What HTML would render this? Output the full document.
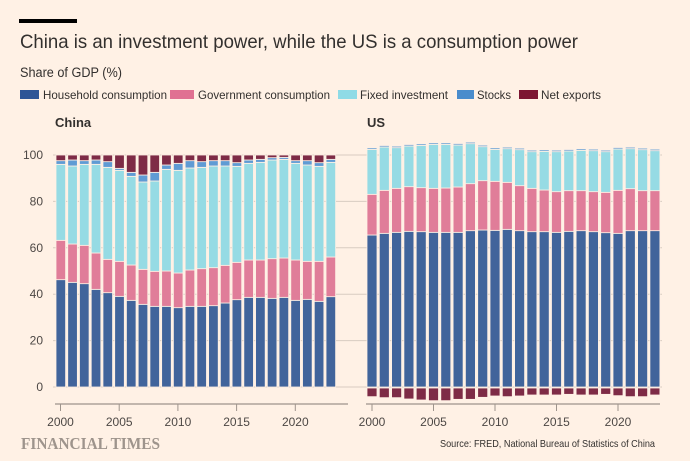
<!DOCTYPE html>
<html><head><meta charset="utf-8"><style>
html,body{margin:0;padding:0;background:#fff1e5;}
svg{display:block;font-family:"Liberation Sans",sans-serif;}
</style></head><body>
<svg id="s" width="690" height="461" viewBox="0 0 690 461" xmlns="http://www.w3.org/2000/svg">
<rect width="690" height="461" fill="#fff1e5"/>
<rect x="19" y="19" width="58" height="4" fill="#000"/>
<text x="20" y="48" font-size="19.5" fill="#33302e" textLength="558" lengthAdjust="spacingAndGlyphs">China is an investment power, while the US is a consumption power</text>
<text x="20" y="77" font-size="13.5" fill="#33302e" textLength="102" lengthAdjust="spacingAndGlyphs">Share of GDP (%)</text>
<g font-size="12" fill="#33302e">
<rect x="20" y="90" width="19" height="9" fill="#2e5596"/><text x="43" y="99" textLength="124" lengthAdjust="spacingAndGlyphs">Household consumption</text>
<rect x="170" y="90" width="24" height="9" fill="#e07192"/><text x="198" y="99" textLength="132" lengthAdjust="spacingAndGlyphs">Government consumption</text>
<rect x="338" y="90" width="19" height="9" fill="#8fdbe6"/><text x="360" y="99" textLength="88" lengthAdjust="spacingAndGlyphs">Fixed investment</text>
<rect x="457" y="90" width="17" height="9" fill="#4a8ccc"/><text x="477" y="99" textLength="34" lengthAdjust="spacingAndGlyphs">Stocks</text>
<rect x="519" y="90" width="19" height="9" fill="#7d1632"/><text x="541" y="99" textLength="60" lengthAdjust="spacingAndGlyphs">Net exports</text>
</g>
<text x="55" y="127" font-size="13" font-weight="bold" fill="#33302e">China</text>
<text x="367" y="127" font-size="13" font-weight="bold" fill="#33302e">US</text>
<g id="grid"></g>
<g id="bars"></g>
<g stroke="#9e948c" stroke-width="1.2">
<line x1="55" y1="404" x2="348" y2="404"/><line x1="366" y1="404" x2="660" y2="404"/>
</g>
<g id="ticks" stroke="#9e948c" stroke-width="1"></g>
<g id="lab" font-size="12" fill="#4d4845" text-anchor="middle"></g>
<text x="21" y="449" font-family="Liberation Serif,serif" font-size="17" font-weight="bold" fill="#9e948c" textLength="139" lengthAdjust="spacingAndGlyphs">FINANCIAL TIMES</text>
<text x="440" y="447" font-size="10.5" fill="#33302e" textLength="215" lengthAdjust="spacingAndGlyphs">Source: FRED, National Bureau of Statistics of China</text>
</svg>
<script>
const NS="http://www.w3.org/2000/svg";
function el(p,t,a){const e=document.createElementNS(NS,t);for(const k in a)e.setAttribute(k,a[k]);p.appendChild(e);return e;}
const Y=z=>110+z/3;
const g=document.getElementById('grid'),b=document.getElementById('bars'),tk=document.getElementById('ticks'),lb=document.getElementById('lab');
for(let i=0;i<=5;i++){const y=387-i*46.4;
 el(g,'line',{x1:53,x2:345,y1:y,y2:y,stroke:'#d8ccc1','stroke-width':1});
 el(g,'line',{x1:345,x2:662,y1:y,y2:y,stroke:'#d8ccc1','stroke-width':1});
 const t=el(lb,'text',{x:43,y:y+4,'text-anchor':'end'});t.textContent=i*20;}
const C={h:'#41649b',g:'#e07d99',f:'#96dbe4',s:'#5f9bd4',n:'#7e2b46'};
function seg(x,w,y1,y2,c){if(Math.abs(y2-y1)<0.3)return;el(b,'rect',{x:x,y:Math.min(y1,y2),width:w,height:Math.abs(y2-y1),fill:c,stroke:'#fff1e5','stroke-width':0.8});}
const ch={h:[509,517,521,538,548,559,571,583,589,589,593,589,589,587,579,569,562,562,565,562,571,568,574,560],
g:[391,402,406,429,448,454,465,478,484,483,489,480,476,473,466,457,450,450,446,444,450,454,454,441],
f:[163,168,163,163,172,181,199,216,213,178,181,174,172,168,168,169,160,157,150,148,160,165,169,157],
n:[152,150,152,150,155,175,187,195,187,165,160,152,155,152,152,158,150,148,143,142,152,152,158,148]};
for(let i=0;i<24;i++){const x=56+i*11.74,w=9.6;
 seg(x,w,387,Y(ch.h[i]),C.h);seg(x,w,Y(ch.h[i]),Y(ch.g[i]),C.g);seg(x,w,Y(ch.g[i]),Y(ch.f[i]),C.f);
 seg(x,w,Y(ch.f[i]),Y(ch.n[i]),C.s);seg(x,w,Y(ch.n[i]),Y(135),C.n);}
const us={h:[375,370,367,364,365,367,367,367,362,360,361,358,362,365,365,367,364,362,365,368,370,362,362,362],
g:[253,241,235,230,233,235,234,231,221,212,214,217,227,235,240,245,242,242,245,247,241,236,242,242],
f:[118,111,113,108,106,103,103,105,101,110,118,116,119,125,124,125,123,121,122,125,117,116,119,122],
n:[860,863,863,867,870,872,872,868,868,862,858,860,858,855,855,855,853,855,855,853,857,860,860,855]};
for(let i=0;i<24;i++){const x=367+i*12.3,w=10;
 seg(x,w,387,Y(us.h[i]),C.h);seg(x,w,Y(us.h[i]),Y(us.g[i]),C.g);seg(x,w,Y(us.g[i]),Y(us.f[i]),C.f);
 seg(x,w,Y(us.f[i]),Y(us.f[i])-1.5,C.s);seg(x,w,388,Y(us.n[i]),C.n);}
const yrs=[2000,2005,2010,2015,2020];
yrs.forEach((yr,k)=>{[[60.5,11.74],[372,12.3]].forEach(([x0,p])=>{const x=x0+k*5*p;
 el(tk,'line',{x1:x,x2:x,y1:404,y2:411});const t=el(lb,'text',{x:x,y:426});t.textContent=yr;});});
</script>
</body></html>
